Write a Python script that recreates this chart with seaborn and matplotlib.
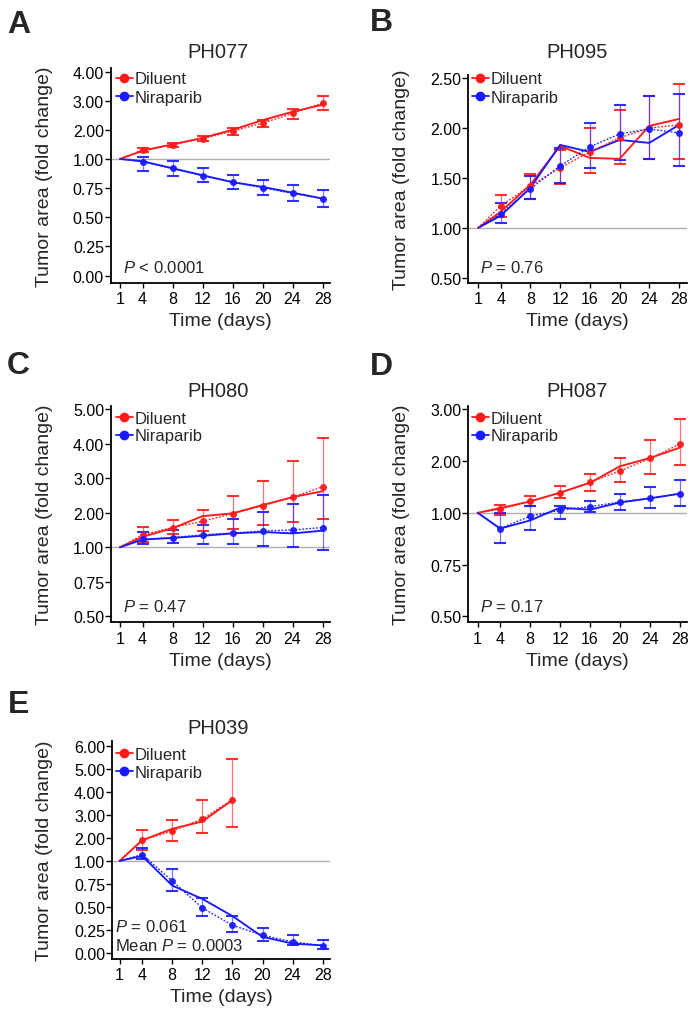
import numpy as np
import pandas as pd
import matplotlib
matplotlib.use('Agg')
import matplotlib.pyplot as plt
import seaborn as sns
from matplotlib.lines import Line2D
from matplotlib.ticker import FormatStrFormatter

sns.set_style('ticks')
plt.rcParams['font.family'] = ['Liberation Sans', 'DejaVu Sans']
plt.rcParams['mathtext.fontset'] = 'custom'
plt.rcParams['mathtext.it'] = 'Liberation Sans:italic'
plt.rcParams['mathtext.rm'] = 'Liberation Sans'

# ---------------- data ----------------
days = [1, 4, 8, 12, 16, 20, 24, 28]
groups = ['Diluent', 'Niraparib']

# PH077
A_dil_mean = [1, 1.30, 1.49, 1.70, 1.95, 2.23, 2.56, 2.92]
A_dil_lo   = [1, 1.23, 1.41, 1.61, 1.83, 2.09, 2.38, 2.69]
A_dil_hi   = [1, 1.36, 1.56, 1.80, 2.05, 2.35, 2.72, 3.15]
A_dil_line = [1, 1.28, 1.50, 1.72, 2.00, 2.33, 2.62, 2.86]
A_nir_mean = [1, 0.977, 0.918, 0.855, 0.804, 0.753, 0.705, 0.66]
A_nir_lo   = [1, 0.90, 0.85, 0.80, 0.741, 0.69, 0.64, 0.588]
A_nir_hi   = [1, 1.06, 0.986, 0.923, 0.866, 0.818, 0.773, 0.736]
A_nir_line = [1, 0.98, 0.92, 0.86, 0.80, 0.76, 0.71, 0.66]

# PH095
B_dil_mean = [1, 1.22, 1.42, 1.60, 1.76, 1.90, 2.00, 2.03]
B_dil_lo   = [1, 1.11, 1.29, 1.44, 1.55, 1.64, 1.69, 1.69]
B_dil_hi   = [1, 1.33, 1.54, 1.78, 2.00, 2.18, 2.32, 2.44]
B_dil_line = [1, 1.16, 1.43, 1.82, 1.70, 1.69, 2.02, 2.09]
B_nir_mean = [1, 1.14, 1.39, 1.62, 1.81, 1.94, 1.99, 1.95]
B_nir_lo   = [1, 1.05, 1.29, 1.45, 1.60, 1.68, 1.69, 1.62]
B_nir_hi   = [1, 1.25, 1.52, 1.80, 2.05, 2.23, 2.32, 2.34]
B_nir_line = [1, 1.12, 1.40, 1.83, 1.76, 1.88, 1.85, 2.03]

# PH080
C_dil_mean = [1, 1.36, 1.57, 1.75, 1.97, 2.20, 2.45, 2.75]
C_dil_lo   = [1, 1.15, 1.37, 1.46, 1.54, 1.64, 1.73, 1.81]
C_dil_hi   = [1, 1.59, 1.80, 2.09, 2.48, 2.93, 3.49, 4.17]
C_dil_line = [1, 1.30, 1.55, 1.90, 1.98, 2.22, 2.45, 2.62]
C_nir_mean = [1, 1.23, 1.28, 1.36, 1.41, 1.47, 1.50, 1.57]
C_nir_lo   = [1, 1.10, 1.13, 1.10, 1.10, 1.05, 1.02, 0.98]
C_nir_hi   = [1, 1.43, 1.51, 1.64, 1.81, 2.02, 2.25, 2.51]
C_nir_line = [1, 1.22, 1.27, 1.33, 1.40, 1.44, 1.40, 1.48]

# PH087
D_dil_mean = [1, 1.07, 1.22, 1.39, 1.59, 1.81, 2.05, 2.33]
D_dil_lo   = [1, 0.99, 1.14, 1.28, 1.42, 1.59, 1.75, 1.92]
D_dil_hi   = [1, 1.15, 1.32, 1.52, 1.75, 2.05, 2.40, 2.82]
D_dil_line = [1, 1.09, 1.22, 1.39, 1.58, 1.90, 2.06, 2.26]
D_nir_mean = [1, 0.924, 0.984, 1.05, 1.12, 1.21, 1.28, 1.37]
D_nir_lo   = [1, 0.852, 0.916, 0.968, 1.02, 1.05, 1.09, 1.14]
D_nir_hi   = [1, 0.997, 1.14, 1.14, 1.23, 1.36, 1.49, 1.64]
D_nir_line = [1, 0.924, 0.963, 1.10, 1.06, 1.20, 1.28, 1.37]

# PH039 (diluent only to day 16)
E_dil_mean = [1, 1.90, 2.30, 2.83, 3.67]
E_dil_lo   = [1, 1.46, 1.86, 2.20, 2.46]
E_dil_hi   = [1, 2.33, 2.78, 3.67, 5.46]
E_dil_line = [1, 1.90, 2.40, 2.72, 3.65]
E_nir_mean = [1, 1.28, 0.783, 0.489, 0.30, 0.19, 0.12, 0.076]
E_nir_lo   = [1, 1.09, 0.67, 0.395, 0.225, 0.13, 0.08, 0.04]
E_nir_hi   = [1, 1.55, 0.91, 0.594, 0.40, 0.275, 0.19, 0.14]
E_nir_line = [1, 1.22, 0.732, 0.587, 0.40, 0.174, 0.10, 0.08]

titles = ['PH077', 'PH095', 'PH080', 'PH087', 'PH039']
letters = ['A', 'B', 'C', 'D', 'E']
A_yticks = [0, 0.25, 0.5, 0.75, 1, 2, 3, 4]
B_yticks = [0.5, 1.0, 1.5, 2.0, 2.5]
C_yticks = [0.5, 0.75, 1, 2, 3, 4, 5]
D_yticks = [0.5, 0.75, 1, 2, 3]
E_yticks = [0, 0.25, 0.5, 0.75, 1, 2, 3, 4, 5, 6]
ptexts = [[r'$P$ < 0.0001'], [r'$P$ = 0.76'], [r'$P$ = 0.47'], [r'$P$ = 0.17'],
          [r'$P$ = 0.061', r'Mean $P$ = 0.0003']]

RED = '#ff1a1a'
BLUE = '#1a1aff'
W, H = 698, 1020


def fwd(y):
    y = np.asarray(y, dtype=float)
    return np.where(y <= 1, 4 * y, 3 + y)


def inv(u):
    u = np.asarray(u, dtype=float)
    return np.where(u <= 4, u / 4, u - 3)


fig = plt.figure(figsize=(W / 100, H / 100), dpi=100)


def add_ax(l, r, t, b):
    return fig.add_axes([l / W, 1 - b / H, (r - l) / W, (b - t) / H])


def ftext(x, y, s, **kw):
    fig.text(x / W, 1 - y / H, s, **kw)


panels = [
    dict(rect=(110.7, 330, 69.3, 283.5), xlim=(-0.24, 28.98), ylim=(-0.06, 4.11), yt=A_yticks, scaled=True,
         dil=(A_dil_mean, A_dil_lo, A_dil_hi, A_dil_line), nir=(A_nir_mean, A_nir_lo, A_nir_hi, A_nir_line),
         title=(218, 53), letter=(7, 25), leg=(115.5, 72.5), ptxt=[(123, 268)], ylab=45, xlab=322),
    dict(rect=(468.3, 686.7, 76, 284), xlim=(-0.35, 29.04), ylim=(0.447, 2.53), yt=B_yticks, scaled=False,
         dil=(B_dil_mean, B_dil_lo, B_dil_hi, B_dil_line), nir=(B_nir_mean, B_nir_lo, B_nir_hi, B_nir_line),
         title=(576.7, 53), letter=(370, 23), leg=(471.5, 72.5), ptxt=[(480, 268)], ylab=402, xlab=322),
    dict(rect=(111, 330, 406.7, 623.3), xlim=(-0.2, 28.98), ylim=(0.457, 5.095), yt=C_yticks, scaled=True,
         dil=(C_dil_mean, C_dil_lo, C_dil_hi, C_dil_line), nir=(C_nir_mean, C_nir_lo, C_nir_hi, C_nir_line),
         title=(218, 391.7), letter=(7, 366), leg=(115.5, 411.5), ptxt=[(123, 606.7)], ylab=45, xlab=662),
    dict(rect=(468.3, 686.7, 406.7, 623.3), xlim=(-0.25, 28.9), ylim=(0.471, 3.07), yt=D_yticks, scaled=True,
         dil=(D_dil_mean, D_dil_lo, D_dil_hi, D_dil_line), nir=(D_nir_mean, D_nir_lo, D_nir_hi, D_nir_line),
         title=(576.7, 391.7), letter=(370, 367), leg=(471.5, 411.5), ptxt=[(480, 606.7)], ylab=402, xlab=662),
    dict(rect=(112, 330, 741.7, 960), xlim=(0.0, 28.97), ylim=(-0.068, 6.24), yt=E_yticks, scaled=True,
         dil=(E_dil_mean, E_dil_lo, E_dil_hi, E_dil_line), nir=(E_nir_mean, E_nir_lo, E_nir_hi, E_nir_line),
         title=(218, 728.3), letter=(8, 705), leg=(115.5, 748), ptxt=[(115.3, 927.3), (115.3, 945.7)],
         ylab=45, xlab=998),
]

for i, p in enumerate(panels):
    l, r, t, b = p['rect']
    ax = add_ax(l, r, t, b)
    if p['scaled']:
        ax.set_yscale('function', functions=(fwd, inv))
    ax.axhline(1, color='#b0b0b0', lw=1.0, zorder=0)
    for key, col in (('dil', RED), ('nir', BLUE)):
        mean, lo, hi, line = p[key]
        n = len(mean)
        x = days[:n]
        df = pd.DataFrame({'day': x, 'mean': mean, 'line': line})
        sns.lineplot(data=df, x='day', y='line', color=col, lw=1.35, ax=ax, estimator=None,
                     sort=False, zorder=3)
        sns.lineplot(data=df, x='day', y='mean', color=col, lw=1.0, linestyle=(0, (1.3, 1.2)),
                     marker='o', ms=5.0, mec=col, mew=0, markevery=list(range(1, n)),
                     ax=ax, estimator=None, sort=False, zorder=4, alpha=0.95)
        m = np.array(mean[1:])
        yerr = [m - np.array(lo[1:]), np.array(hi[1:]) - m]
        eb = ax.errorbar(x[1:], m, yerr=yerr, fmt='none', ecolor=col, elinewidth=0.9,
                         capsize=4.6, capthick=1.5, zorder=2)
        for bl in eb[2]:
            bl.set_alpha(0.6)
        for cl in eb[1]:
            cl.set_alpha(0.9)
    ax.set_xlim(*p['xlim'])
    ax.set_ylim(*p['ylim'])
    ax.set_xticks(days)
    ax.set_xticklabels([str(d) for d in days])
    ax.set_yticks(p['yt'])
    ax.yaxis.set_major_formatter(FormatStrFormatter('%.2f'))
    ax.minorticks_off()
    ax.set_xlabel('')
    ax.set_ylabel('')
    sns.despine(ax=ax)
    for s in ('left', 'bottom'):
        ax.spines[s].set_linewidth(1.3)
        ax.spines[s].set_color('black')
    ax.tick_params(axis='y', labelsize=11.5, length=4.3, width=1.0, pad=0.6, colors='black')
    ax.tick_params(axis='x', labelsize=11.5, length=3.8, width=1.0, pad=2.2, colors='black')
    ax.set_facecolor('none')

    # legend
    handles = [Line2D([0], [0], color=RED, lw=1.3, marker='o', ms=6),
               Line2D([0], [0], color=BLUE, lw=1.3, marker='o', ms=6)]
    lx, ly = p['leg']
    ax.legend(handles, groups, loc='upper left', bbox_to_anchor=(lx / W, 1 - ly / H),
              bbox_transform=fig.transFigure, frameon=False, fontsize=12, handlelength=1.05,
              handletextpad=0.12, labelspacing=0.18, borderpad=0, borderaxespad=0)

    # texts
    tx, ty = p['title']
    ftext(tx, ty, titles[i], ha='center', va='center', fontsize=14.5)
    ex, ey = p['letter']
    ftext(ex, ey, letters[i], ha='left', va='center', fontsize=23, fontweight='bold')
    for (px, py), s in zip(p['ptxt'], ptexts[i]):
        ftext(px, py, s, ha='left', va='center', fontsize=12)
    ftext(p['ylab'], (t + b) / 2, 'Tumor area (fold change)', rotation=90, ha='center', va='center',
          fontsize=14)
    ftext((l + r) / 2, p['xlab'], 'Time (days)', ha='center', va='center', fontsize=14)

fig.savefig('out.png', dpi=100)
